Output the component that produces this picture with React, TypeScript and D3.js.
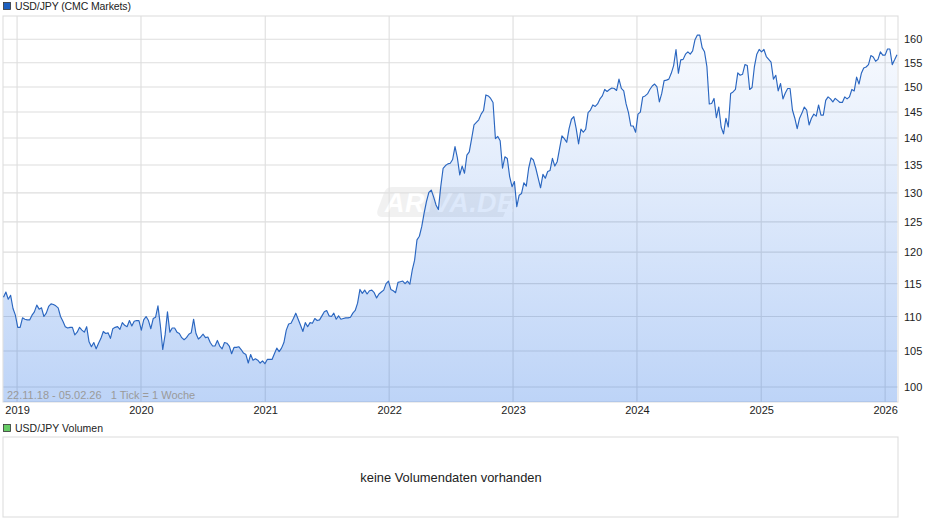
import React, { useRef, useEffect } from 'react';
import * as d3 from 'd3';

// weekly closes, one array per stretch of the x axis
const closes1 = [
  112.9, 113.7, 112.6, 113.2, 111.2, 110.2, 108.4, 108.4, 109.8, 109.6, 109.5, 109.5, 110.2, 110.7, 111.7, 111.1,
  111.3, 110, 110.5, 111.5, 111.9, 111.8, 111.6, 111.3, 110, 109.3, 108.5, 108.3, 108.4, 108.4, 107.3, 107.7,
  108.4, 108, 107.7, 108.5, 106.3, 105.6, 106.2, 105.3, 106.1, 106.8, 107.8, 107.5, 107.6, 106.8, 108.2, 108.4,
  108.5, 108.1, 109.1, 108.7, 108.5, 109.4, 108.6, 109.3, 109.4, 109.4, 108, 109.5, 110, 109.4,
];
const closes2 = [
  108.2, 109.7, 109.9, 111.6, 108.7, 105.2, 107.3, 110.7, 107.7, 108.3, 108.3, 107.7, 107.5, 106.9, 106.6, 106.9,
  107.4, 107.6, 109.6, 107.5, 106.7, 107, 107.4, 106.9, 107, 106.2, 105.7, 105.7, 106.5, 105.7, 105.3, 106.2,
  106.1, 105.7, 104.6, 105.5, 105.5, 105.6, 105.2, 104.7, 104.5, 103.3, 104.5, 103.7, 103.9, 103.7, 103.3, 103.6,
  103.2, 103.8, 103.8, 103.8, 104.6, 105.4, 104.9, 105.4, 106.2, 108, 108.9,
];
const closes3 = [
  109, 109.7, 110.5, 109.6, 108.7, 107.8, 109.1, 108.5, 109.1, 109, 109.7, 109.4, 109.5, 110.1, 110.7, 110.9,
  110.1, 110, 110.5, 109.6, 110.1, 109.6, 109.7, 109.8, 109.8, 109.9, 110.5, 110.9, 112, 114.1, 113.5, 114,
  113.4, 113.9, 114, 113.6, 112.8, 113.4, 113.7, 114, 115, 115.4, 114.1, 113.9, 113.6, 115.2, 115.3, 115.4,
  115, 115.4, 114.9, 117.1,
];
const closes4 = [
  118.7, 122, 122.6, 124.2, 126.5, 128.5, 130.1, 130.5, 129.3, 127.9, 127.1, 131.1, 134.4, 134.9, 135.2, 135.3,
  136, 138.4, 136.3, 133.2, 134.8, 133.5, 136.8, 137.4, 139.9, 142.5, 143, 143.5, 144.6, 145.3, 148.4, 148.2,
  147.7, 146.9, 139.9, 140.3, 139.5, 134.4, 136.5, 136.2, 132.9, 131.1, 132, 127.6, 129.6, 129.9, 131.8, 131.2,
  134.4, 136.3, 135.9, 134.4, 132.6, 130.9,
];
const closes5 = [
  133.3, 132.6, 133.8, 134, 136.2, 134.8, 135.6, 138, 140.4, 139.9, 139.2, 141.8, 143.6, 144.1, 141.8, 138.9,
  141.7, 141.1, 141.7, 144.9, 145.4, 146.4, 146.1, 146.6, 147.6, 148.2, 149.5, 149.1, 149.5, 149.8, 149.7, 149.3,
  151.6, 149.7, 149.2, 146.6, 144.9, 142.3, 142.3, 141.1, 144.6, 145, 148, 148.2, 148.6, 149.5, 150.2, 150.6,
  150, 147,
];
const closes6 = [
  148.7, 151.3, 151.4, 151.6, 152.8, 154.4, 157.8, 152.8, 155.6, 155.7, 156.8, 157.3, 156.8, 157.5, 159.9, 160.9,
  160.9, 158.2, 157.3, 154.2, 146.6, 146.7, 147.7, 143.9, 146, 142.1, 140.8, 143.8, 142.1, 148.7, 149, 149.5,
  152.9, 152.4, 152.6, 154.6, 154.4, 149.5, 149.9, 154.2, 156.8, 157.8, 157.3, 157.8, 156.3, 155.7, 155.1, 151.6,
  152.4, 149.2,
];
const closes7 = [
  150.7, 147.6, 148.8, 149.7, 149.7, 145.4, 143.8, 141.8, 143.8, 144.8, 146, 145.4, 142.5, 143.8, 144.6, 144.2,
  146.4, 144.4, 144.4, 147.3, 148, 147.6, 147, 147.7, 147.3, 146.9, 146.9, 148, 147.6, 148, 149.5, 149.2,
  152, 150.6, 152.8, 153.9, 154.1, 154.6, 156.5, 156.2, 155.3, 155.7, 157.3, 156.6, 156.6, 157.9, 157.9, 154.6,
  155.6, 156.7,
];
const closes = [...closes1, ...closes2, ...closes3, ...closes4, ...closes5, ...closes6, ...closes7];

const priceTicks = [100, 105, 110, 115, 120, 125, 130, 135, 140, 145, 150, 155, 160];
const yearTicks = [2019, 2020, 2021, 2022, 2023, 2024, 2025, 2026];
const firstWeek = new Date(2018, 10, 22);
const lastWeek = new Date(2026, 1, 5);

const gridColor = '#dedede';
const labelFont = '"Liberation Sans", Arial, sans-serif';

const App: React.FC = () => {
  const ref = useRef<SVGSVGElement>(null);

  useEffect(() => {
    const svg = d3.select(ref.current);
    svg.selectAll('*').remove();

    const x = d3.scaleTime().domain([firstWeek, lastWeek]).range([3.5, 897]);
    const y = d3.scaleLog().domain([98, 165.1]).range([402, 16]);
    const weekDate = (i: number) => d3.timeDay.offset(firstWeek, i * 7);

    const defs = svg.append('defs');
    const gradient = defs
      .append('linearGradient')
      .attr('id', 'area-fill')
      .attr('x1', '0%')
      .attr('y1', '0%')
      .attr('x2', '0%')
      .attr('y2', '100%');
    gradient.append('stop').attr('offset', '0%').attr('stop-color', '#1c6ae4').attr('stop-opacity', 0.03);
    gradient.append('stop').attr('offset', '100%').attr('stop-color', '#1c6ae4').attr('stop-opacity', 0.29);

    // legend rows
    const legend = (ly: number, fill: string, label: string, width: number) => {
      svg
        .append('rect')
        .attr('x', 3.5)
        .attr('y', ly - 3.5)
        .attr('width', 7)
        .attr('height', 7)
        .attr('fill', fill)
        .attr('stroke', '#333')
        .attr('stroke-width', 0.8);
      svg
        .append('text')
        .attr('x', 15)
        .attr('y', ly + 4)
        .attr('font-family', labelFont)
        .attr('font-size', 10.5)
        .attr('fill', '#222')
        .attr('textLength', width)
        .text(label);
    };
    legend(6, '#1c5fc0', 'USD/JPY (CMC Markets)', 116);
    legend(428, '#66cc66', 'USD/JPY Volumen', 88);

    // grid
    const grid = svg.append('g').attr('stroke', gridColor).attr('stroke-width', 1.1);
    priceTicks.forEach((t) => {
      grid.append('line').attr('x1', 3).attr('x2', 898).attr('y1', y(t)).attr('y2', y(t));
    });
    yearTicks.forEach((yr) => {
      const px = x(new Date(yr, 0, 1));
      grid.append('line').attr('x1', px).attr('x2', px).attr('y1', 16).attr('y2', 402);
    });
    svg
      .append('rect')
      .attr('x', 3)
      .attr('y', 16)
      .attr('width', 895)
      .attr('height', 386)
      .attr('fill', 'none')
      .attr('stroke', gridColor)
      .attr('stroke-width', 1.1);

    // watermark
    const mark = svg.append('g').attr('opacity', 0.5);
    mark
      .append('path')
      .attr('d', 'M388 187 H516 L503 217 H383 Q375 217 378 209 L384 193 Q386 187 392 187 Z')
      .attr('fill', '#e4e4e4');
    mark
      .append('text')
      .attr('x', 385)
      .attr('y', 212)
      .attr('font-family', labelFont)
      .attr('font-size', 27)
      .attr('font-weight', 'bold')
      .attr('font-style', 'italic')
      .attr('fill', '#fff')
      .attr('textLength', 130)
      .text('ARIVA.DE');

    const area = d3
      .area<number>()
      .x((_, i) => x(weekDate(i)))
      .y0(402)
      .y1((d) => y(d));
    const line = d3
      .line<number>()
      .x((_, i) => x(weekDate(i)))
      .y((d) => y(d));

    svg.append('path').datum(closes).attr('d', area).attr('fill', 'url(#area-fill)');
    svg
      .append('path')
      .datum(closes)
      .attr('d', line)
      .attr('fill', 'none')
      .attr('stroke', '#2a66c0')
      .attr('stroke-width', 1.15)
      .attr('stroke-linejoin', 'round');

    svg
      .append('text')
      .attr('x', 7)
      .attr('y', 399)
      .attr('font-family', labelFont)
      .attr('font-size', 11)
      .attr('fill', '#9a9a9a')
      .style('white-space', 'pre')
      .text('22.11.18 - 05.02.26   1 Tick = 1 Woche');

    // axes
    const yAxis = d3
      .axisRight(y)
      .tickValues(priceTicks)
      .tickSize(0)
      .tickPadding(6)
      .tickFormat((d) => String(d));
    const xAxis = d3
      .axisBottom(x)
      .tickValues(yearTicks.map((yr) => new Date(yr, 0, 1)))
      .tickSize(0)
      .tickPadding(4)
      .tickFormat((d) => String((d as Date).getFullYear()));

    const gy = svg.append('g').attr('transform', 'translate(898,0)').call(yAxis as any);
    const gx = svg.append('g').attr('transform', 'translate(0,402)').call(xAxis as any);
    [gy, gx].forEach((g) => {
      g.select('.domain').remove();
      g.selectAll('text').attr('font-family', labelFont).attr('font-size', 11).attr('fill', '#222');
    });

    // empty volume panel
    svg
      .append('rect')
      .attr('x', 3)
      .attr('y', 437)
      .attr('width', 895)
      .attr('height', 80)
      .attr('fill', '#fff')
      .attr('stroke', gridColor)
      .attr('stroke-width', 1.1);
    svg
      .append('text')
      .attr('x', 451)
      .attr('y', 482)
      .attr('text-anchor', 'middle')
      .attr('font-family', labelFont)
      .attr('font-size', 12.9)
      .attr('fill', '#222')
      .text('keine Volumendaten vorhanden');
  }, []);

  return <svg ref={ref} width={940} height={526} style={{ position: 'absolute', left: 0, top: 0 }} />;
};

export default App;
